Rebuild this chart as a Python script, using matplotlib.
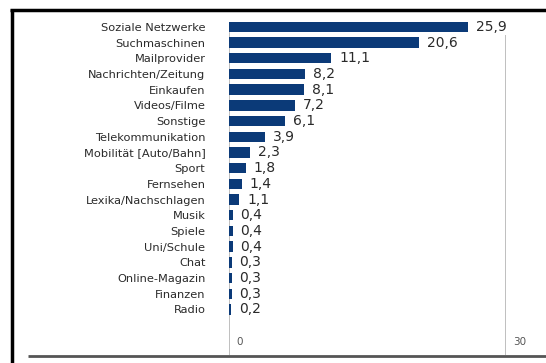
import matplotlib.pyplot as plt
from matplotlib.lines import Line2D

categories = ['Soziale Netzwerke', 'Suchmaschinen', 'Mailprovider', 'Nachrichten/Zeitung',
              'Einkaufen', 'Videos/Filme', 'Sonstige', 'Telekommunikation',
              'Mobilität [Auto/Bahn]', 'Sport', 'Fernsehen', 'Lexika/Nachschlagen',
              'Musik', 'Spiele', 'Uni/Schule', 'Chat', 'Online-Magazin', 'Finanzen', 'Radio']
values = [25.9, 20.6, 11.1, 8.2, 8.1, 7.2, 6.1, 3.9, 2.3, 1.8, 1.4, 1.1,
          0.4, 0.4, 0.4, 0.3, 0.3, 0.3, 0.2]
ticks = [0, 30]

bar_color = '#0b3a78'
text_color = '#2a2a2a'
grid_color = '#b4b4b4'

fig = plt.figure(figsize=(5.46, 3.63), dpi=100)
ax = fig.add_axes([229 / 546, 1 - 355 / 363, (506 - 229) / 546, (355 - 19) / 363])

n = len(categories)
ypos = list(range(n))
ax.barh(ypos, values, height=0.66, color=bar_color, zorder=2)

for y, v in zip(ypos, values):
    ax.text(v + 0.85, y, f'{v:.1f}'.replace('.', ','), va='center', ha='left',
            fontsize=10, color=text_color, zorder=4,
            bbox=dict(facecolor='white', edgecolor='none', pad=0.5))

# gridlines at 0 and 30 run down past the bars
for t in ticks:
    ax.plot([t, t], [0.4, n + 1.9], color=grid_color, lw=1.2, zorder=1)
    ax.text(t + 0.8, n + 1.1, str(t), ha='left', va='center', fontsize=7.5,
            color='#555555')

ax.set_xlim(0, 30)
ax.set_ylim(n + 1.9, -0.5)
ax.set_yticks(ypos)
ax.set_yticklabels(categories, fontsize=8.2, color=text_color)
ax.tick_params(axis='y', length=0, pad=17)
ax.set_xticks([])
for s in ax.spines.values():
    s.set_visible(False)

# frame around the panel
fig.add_artist(Line2D([10 / 546, 1], [1 - 9.5 / 363] * 2, color='black', lw=2.5,
                      solid_capstyle='butt'))
fig.add_artist(Line2D([11.5 / 546] * 2, [0, 1 - 8.5 / 363], color='black', lw=2.5,
                      solid_capstyle='butt'))
fig.add_artist(Line2D([28 / 546, 1], [1 - 356 / 363] * 2, color='#555555', lw=2,
                      solid_capstyle='butt'))

fig.savefig('out.png', dpi=100)
